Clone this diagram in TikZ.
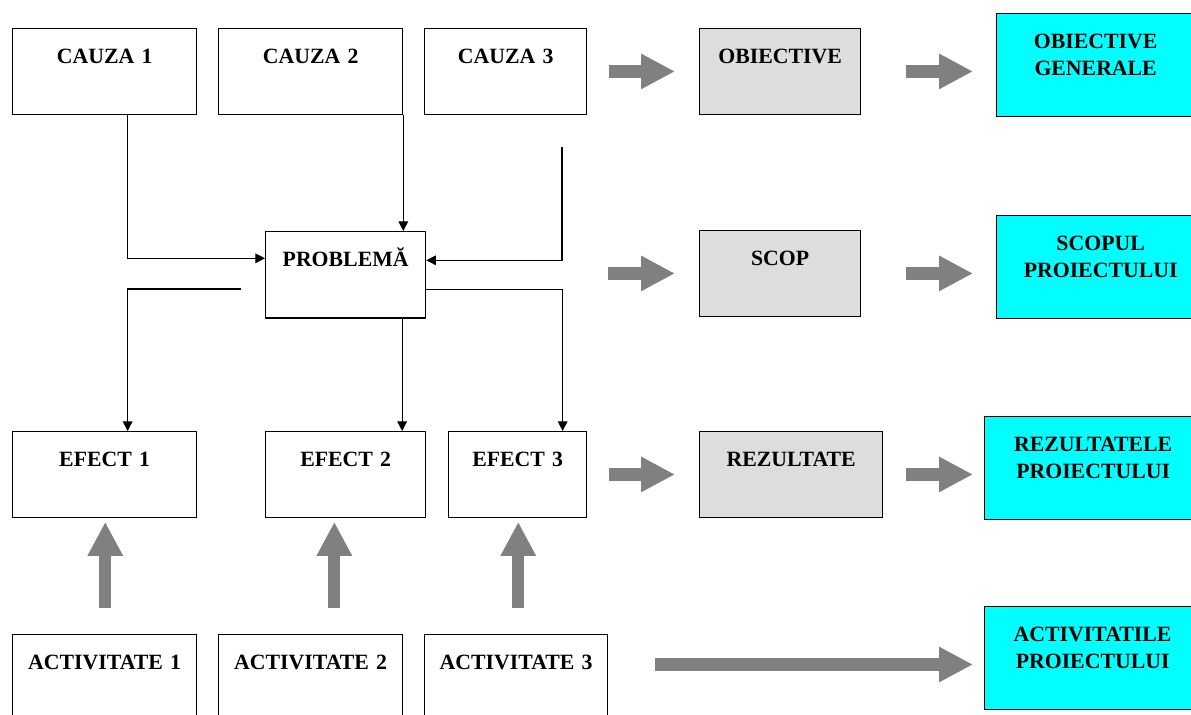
\documentclass[tikz,border=0pt]{standalone}
\usepackage{fontspec}
\setmainfont{Liberation Serif}
\usetikzlibrary{arrows.meta,calc}
\definecolor{boxgray}{HTML}{DDDDDD}
\definecolor{arrowgray}{HTML}{808080}
\definecolor{aqua}{HTML}{00FFFF}
\begin{document}
\begin{tikzpicture}[x=0.02cm,y=-0.02cm,
  box/.style={draw=black, line width=0.75pt, inner sep=0pt, anchor=north west, align=center,
    font=\bfseries\fontsize{12.4pt}{15.1pt}\selectfont, text height=20pt, text depth=28.7pt},
  twoline/.style={text depth=38.7pt},
  greybox/.style={fill=boxgray},
  cyanbox/.style={fill=aqua},
  conn/.style={draw=black, line width=0.7pt, -{Triangle[length=5.5pt 0 0,width=5.5pt 0 0]}},
  big/.style={draw=arrowgray, line width=7pt, -{Triangle[length=19.3pt 0 0,width=18.8pt 0 0]}}
]
\useasboundingbox (0,0) rectangle (1191,715);

% causes, problem, effects, activities
\node[box,text width=3.68cm] (c1) at (12,28) {CAUZA 1};
\node[box,text width=3.68cm] (c2) at (218,28) {CAUZA 2};
\node[box,text width=3.24cm] (c3) at (424,28) {CAUZA 3};
\node[box,text width=3.2cm,text depth=29.1pt] (prob) at (265,231) {PROBLEMĂ};
\node[box,text width=3.68cm] (e1) at (12,431) {EFECT 1};
\node[box,text width=3.2cm] (e2) at (265,431) {EFECT 2};
\node[box,text width=2.76cm] (e3) at (448,431) {EFECT 3};
\node[box,text width=3.68cm] (a1) at (12,634) {ACTIVITATE 1};
\node[box,text width=3.68cm] (a2) at (218,634) {ACTIVITATE 2};
\node[box,text width=3.66cm] (a3) at (424,634) {ACTIVITATE 3};

% middle column
\node[box,greybox,text width=3.22cm] (obj) at (699,28) {OBIECTIVE};
\node[box,greybox,text width=3.22cm] (scop) at (699,230) {SCOP};
\node[box,greybox,text width=3.66cm] (rez) at (699,431) {REZULTATE};

% right column
\node[box,cyanbox,twoline,text width=3.96cm] (og) at (996,13) {OBIECTIVE\\GENERALE};
\node[box,cyanbox,twoline,text width=4.16cm] (sp) at (996,215) {SCOPUL\\PROIECTULUI};
\node[box,cyanbox,twoline,text width=4.36cm] (rp) at (983.5,416) {REZULTATELE\\PROIECTULUI};
\node[box,cyanbox,twoline,text width=4.34cm] (ap) at (983.5,606) {ACTIVITATILE\\PROIECTULUI};

% thin connectors around the problem
\coordinate (c3in) at (562,147);
\coordinate (e1out) at (241,289);
\draw[conn] ($(c1.south)+(23,0)$) |- ($(prob.west)+(0,-16.5)$);
\draw[conn] (c2.south east) -- (c2.south east |- prob.north);
\draw[conn] (c3in) |- ($(prob.east)+(0,-14.5)$);
\draw[conn] (e1out) -| ($(e1.north)+(23,0)$);
\draw[conn] ($(prob.south)+(56.5,0)$) -- ($(e2.north)+(56.5,0)$);
\draw[conn] ($(prob.east)+(0,14.5)$) -| ($(e3.north)+(45,0)$);

% block arrows
\draw[big] ($(c3.east)+(21.6,0)$) -- ($(obj.west)+(-24,0)$);
\draw[big] ($(scop.west)+(-91.4,0)$) -- ($(scop.west)+(-24,0)$);
\draw[big] ($(e3.east)+(21.6,0)$) -- ($(rez.west)+(-24,0)$);
\draw[big] ($(obj.east)+(45,0)$) -- ($(obj.east -| og.west)+(-23,0)$);
\draw[big] ($(scop.east)+(45,0)$) -- ($(scop.east -| sp.west)+(-23,0)$);
\draw[big] ($(rez.east)+(23,0)$) -- ($(rez.east -| rp.west)+(-10.5,0)$);
\draw[big] ($(a3.east |- ap.west)+(46.6,6.3)$) -- ($(ap.west)+(-10.5,6.3)$);
\draw[big] ($(e1.south)+(0.6,90)$) -- ($(e1.south)+(0.6,4)$);
\draw[big] ($(e2.south)+(-11.3,90)$) -- ($(e2.south)+(-11.3,4)$);
\draw[big] ($(e3.south)+(0.6,90)$) -- ($(e3.south)+(0.6,4)$);
\end{tikzpicture}
\end{document}
